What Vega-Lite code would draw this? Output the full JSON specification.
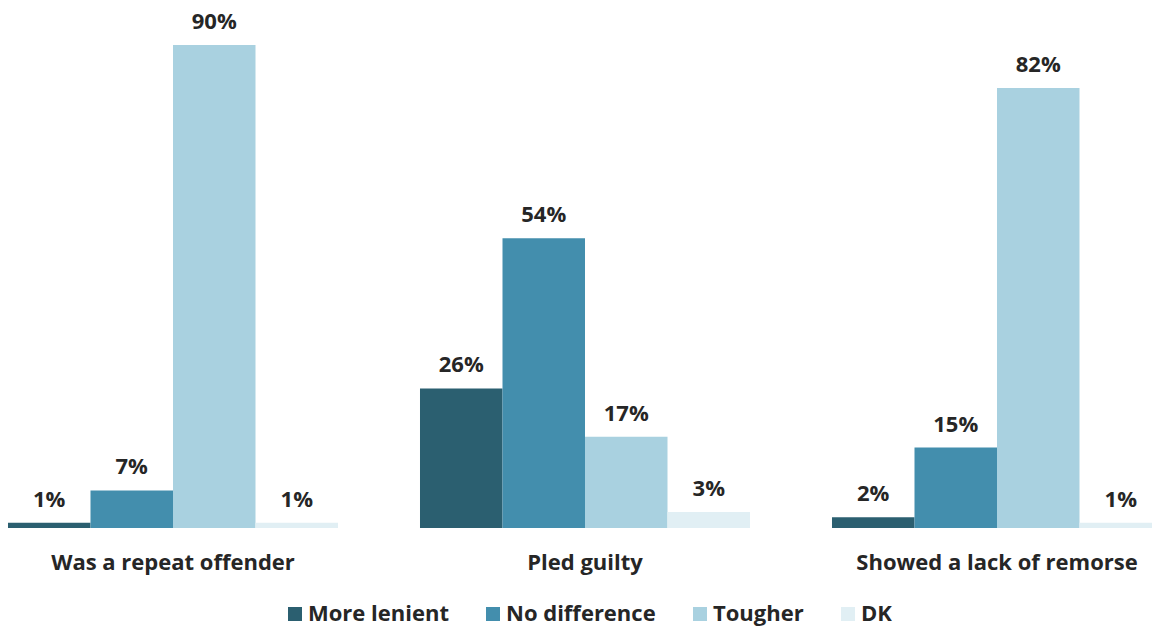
{
  "$schema": "https://vega.github.io/schema/vega-lite/v6.json",
  "width": 1170,
  "height": 528,
  "autosize": {"type": "none"},
  "padding": {"left": 0, "top": 0, "right": 0, "bottom": 100},
  "background": "white",
  "config": {"view": {"stroke": null}, "font": "Open Sans"},
  "data": {
    "values": [
      {"category": "Was a repeat offender", "response": "More lenient", "value": 0.01},
      {"category": "Was a repeat offender", "response": "No difference", "value": 0.07},
      {"category": "Was a repeat offender", "response": "Tougher", "value": 0.90},
      {"category": "Was a repeat offender", "response": "DK", "value": 0.01},
      {"category": "Pled guilty", "response": "More lenient", "value": 0.26},
      {"category": "Pled guilty", "response": "No difference", "value": 0.54},
      {"category": "Pled guilty", "response": "Tougher", "value": 0.17},
      {"category": "Pled guilty", "response": "DK", "value": 0.03},
      {"category": "Showed a lack of remorse", "response": "More lenient", "value": 0.02},
      {"category": "Showed a lack of remorse", "response": "No difference", "value": 0.15},
      {"category": "Showed a lack of remorse", "response": "Tougher", "value": 0.82},
      {"category": "Showed a lack of remorse", "response": "DK", "value": 0.01}
    ]
  },
  "encoding": {
    "x": {
      "field": "category",
      "type": "nominal",
      "sort": ["Was a repeat offender", "Pled guilty", "Showed a lack of remorse"],
      "scale": {"paddingInner": 0.199, "paddingOuter": 0.0194},
      "axis": {
        "title": null,
        "labelAngle": 0,
        "domain": false,
        "ticks": false,
        "labelFontSize": 22,
        "labelFontWeight": "bold",
        "labelColor": "#262626",
        "labelPadding": 24,
        "labelLimit": 0
      }
    },
    "xOffset": {
      "field": "response",
      "type": "nominal",
      "sort": ["More lenient", "No difference", "Tougher", "DK"],
      "scale": {"paddingInner": 0, "paddingOuter": 0}
    },
    "y": {
      "field": "value",
      "type": "quantitative",
      "scale": {"domain": [0, 0.984], "nice": false},
      "axis": null
    }
  },
  "layer": [
    {
      "mark": {"type": "bar"},
      "encoding": {
        "color": {
          "field": "response",
          "type": "nominal",
          "scale": {
            "domain": ["More lenient", "No difference", "Tougher", "DK"],
            "range": ["#2B5F70", "#438EAD", "#A9D1E0", "#E1EFF4"]
          },
          "legend": {
            "title": null,
            "orient": "none",
            "direction": "horizontal",
            "legendX": 284,
            "legendY": 603,
            "symbolType": "square",
            "symbolSize": 196,
            "symbolStrokeWidth": 0,
            "labelFontSize": 22,
            "labelFontWeight": "bold",
            "labelColor": "#262626",
            "labelOffset": 2,
            "labelLimit": 0,
            "columnPadding": 33
          }
        }
      }
    },
    {
      "mark": {
        "type": "text",
        "baseline": "alphabetic",
        "dy": -16,
        "fontSize": 22,
        "fontWeight": "bold",
        "color": "#262626"
      },
      "encoding": {
        "text": {"field": "value", "type": "quantitative", "format": ".0%"}
      }
    }
  ]
}
